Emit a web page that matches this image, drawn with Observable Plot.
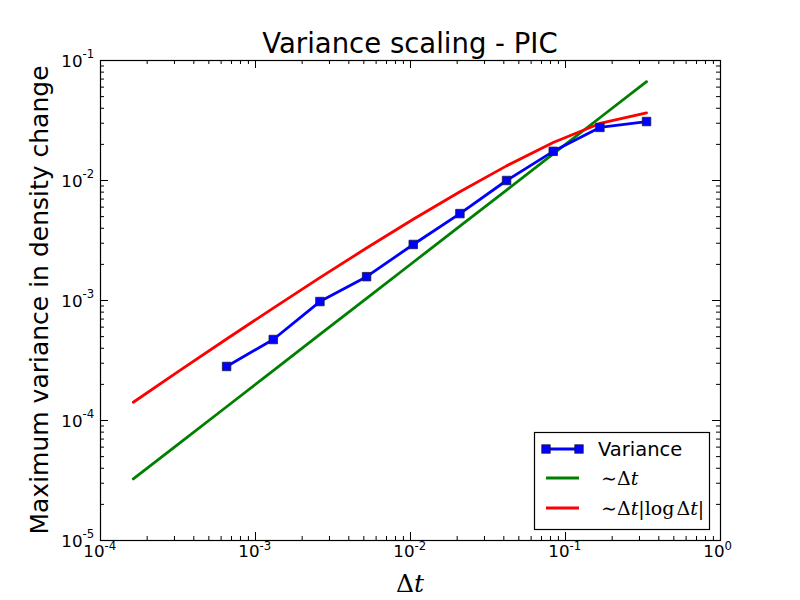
<!DOCTYPE html>
<html>
<head>
<meta charset="utf-8">
<script src="https://cdn.jsdelivr.net/npm/d3@7"></script>
<script src="https://cdn.jsdelivr.net/npm/@observablehq/plot@0.6"></script>
<style>
  html, body { margin: 0; padding: 0; background: #fff; }
  #chart { width: 800px; height: 600px; }
</style>
</head>
<body>
<div id="chart"></div>
<script>
// ---- data ----
const dtRef = [1.628e-4, 3.255e-4, 6.510e-4, 1.302e-3, 2.604e-3, 5.208e-3, 1.0417e-2, 2.0833e-2, 4.1667e-2, 8.3333e-2, 0.16667, 0.33333];
const linearRef = [3.26e-5, 6.51e-5, 1.302e-4, 2.604e-4, 5.21e-4, 1.042e-3, 2.083e-3, 4.167e-3, 8.33e-3, 1.667e-2, 3.333e-2, 6.667e-2];
const logRef = [1.420e-4, 2.614e-4, 4.776e-4, 8.65e-4, 1.550e-3, 2.738e-3, 4.755e-3, 8.065e-3, 1.324e-2, 2.071e-2, 2.986e-2, 3.662e-2];
const dtVar = [6.510e-4, 1.302e-3, 2.604e-3, 5.208e-3, 1.0417e-2, 2.0833e-2, 4.1667e-2, 8.3333e-2, 0.16667, 0.33333];
const variance = [2.82e-4, 4.73e-4, 9.8e-4, 1.58e-3, 2.93e-3, 5.3e-3, 1.0e-2, 1.75e-2, 2.77e-2, 3.1e-2];
const xMajor = [1e-4, 1e-3, 1e-2, 1e-1, 1];
const xExp = ["-4", "-3", "-2", "-1", "0"];
const yMajor = [1e-5, 1e-4, 1e-3, 1e-2, 1e-1];
const yExp = ["-5", "-4", "-3", "-2", "-1"];
const minorMult = [2, 3, 4, 5, 6, 7, 8, 9];

const xMinor = xMajor.slice(0, -1).flatMap(d => minorMult.map(m => d * m));
const yMinor = yMajor.slice(0, -1).flatMap(d => minorMult.map(m => d * m));
const linData = dtRef.map((d, i) => ({x: d, y: linearRef[i]}));
const logData = dtRef.map((d, i) => ({x: d, y: logRef[i]}));
const varData = dtVar.map((d, i) => ({x: d, y: variance[i]}));
const xLab = xMajor.map((d, i) => ({v: d, e: xExp[i]}));
const yLab = yMajor.map((d, i) => ({v: d, e: yExp[i]}));

const W = 800, H = 600, ML = 100, MR = 80, MT = 60, MB = 60;
const PW = W - ML - MR, PH = H - MT - MB;
const MAJ = 8, MIN = 4;
const FONT = "DejaVu Sans";
const MATH = "DejaVu Serif";
const LW = 2.8;

const chart = Plot.plot({
  width: W, height: H,
  marginLeft: ML, marginRight: MR, marginTop: MT, marginBottom: MB,
  style: {fontFamily: FONT, background: "#fff", overflow: "visible"},
  x: {type: "log", domain: [1e-4, 1], axis: null},
  y: {type: "log", domain: [1e-5, 1e-1], axis: null},
  marks: [
    Plot.line(linData, {x: "x", y: "y", stroke: "#008000", strokeWidth: LW}),
    Plot.line(logData, {x: "x", y: "y", stroke: "#ff0000", strokeWidth: LW}),
    Plot.line(varData, {x: "x", y: "y", stroke: "#0000ff", strokeWidth: LW}),
    Plot.dot(varData, {x: "x", y: "y", symbol: "square", r: 4.8, fill: "#0000ff", stroke: "#1a1a40", strokeWidth: 0.8}),
    // inward ticks on all four sides
    Plot.tickX(xMajor, {x: d => d, insetTop: PH - MAJ, stroke: "black"}),
    Plot.tickX(xMajor, {x: d => d, insetBottom: PH - MAJ, stroke: "black"}),
    Plot.tickX(xMinor, {x: d => d, insetTop: PH - MIN, stroke: "black"}),
    Plot.tickX(xMinor, {x: d => d, insetBottom: PH - MIN, stroke: "black"}),
    Plot.tickY(yMajor, {y: d => d, insetRight: PW - MAJ, stroke: "black"}),
    Plot.tickY(yMajor, {y: d => d, insetLeft: PW - MAJ, stroke: "black"}),
    Plot.tickY(yMinor, {y: d => d, insetRight: PW - MIN, stroke: "black"}),
    Plot.tickY(yMinor, {y: d => d, insetLeft: PW - MIN, stroke: "black"}),
    Plot.frame({stroke: "black", strokeWidth: 1.2}),
    // tick labels
    Plot.text(xLab, {x: "v", text: () => "10", frameAnchor: "bottom", dy: 16, dx: 4, textAnchor: "end", fontSize: 16.7, fill: "black"}),
    Plot.text(xLab, {x: "v", text: "e", frameAnchor: "bottom", dy: 9, dx: 4, textAnchor: "start", fontSize: 11.7, fill: "black"}),
    Plot.text(yLab, {y: "v", text: () => "10", frameAnchor: "left", dx: -18, dy: 1, textAnchor: "end", fontSize: 16.7, fill: "black"}),
    Plot.text(yLab, {y: "v", text: "e", frameAnchor: "left", dx: -18, dy: -6, textAnchor: "start", fontSize: 11.7, fill: "black"})
  ]
});

const svg = d3.select(chart);
// title
svg.append("text").attr("x", ML + PW / 2).attr("y", 53).attr("text-anchor", "middle")
  .attr("font-family", FONT).attr("font-size", 27.5).attr("fill", "black").text("Variance scaling - PIC");
// y label
svg.append("text").attr("transform", `translate(48,${MT + PH / 2}) rotate(-90)`).attr("text-anchor", "middle")
  .attr("font-family", FONT).attr("font-size", 25).attr("fill", "black").text("Maximum variance in density change");
// x label (math)
const xl = svg.append("text").attr("x", ML + PW / 2).attr("y", 592).attr("text-anchor", "middle")
  .attr("font-family", MATH).attr("font-size", 25).attr("fill", "black");
xl.append("tspan").text("Δ");
xl.append("tspan").attr("font-style", "italic").text("t");

// legend
const lg = svg.append("g");
lg.append("rect").attr("x", 534.5).attr("y", 432.5).attr("width", 175).attr("height", 97)
  .attr("fill", "white").attr("stroke", "black").attr("stroke-width", 1.2);
const entries = [
  {y: 449, color: "#0000ff", marker: true, parts: [["Variance", FONT, "normal", 0]]},
  {y: 478, color: "#008000", marker: false, parts: [["∼Δ", MATH, "normal", 0], ["t", MATH, "italic", 0]]},
  {y: 508, color: "#ff0000", marker: false, parts: [["∼Δ", MATH, "normal", 0], ["t", MATH, "italic", 0], ["|log", MATH, "normal", 0], ["Δ", MATH, "normal", 2], ["t", MATH, "italic", 0], ["|", MATH, "normal", 0]]}
];
for (const e of entries) {
  lg.append("line").attr("x1", 546).attr("x2", 579).attr("y1", e.y).attr("y2", e.y)
    .attr("stroke", e.color).attr("stroke-width", LW);
  if (e.marker) {
    for (const mx of [546, 579]) {
      lg.append("rect").attr("x", mx - 4.2).attr("y", e.y - 4.2).attr("width", 8.4).attr("height", 8.4)
        .attr("fill", "#0000ff").attr("stroke", "#1a1a40").attr("stroke-width", 0.8);
    }
  }
  const t = lg.append("text").attr("x", e.marker ? 598 : 601).attr("y", e.y + 7).attr("fill", "black")
    .attr("text-anchor", "start").attr("font-size", e.marker ? 19.5 : 19);
  for (const [s, f, st, dx] of e.parts) {
    t.append("tspan").attr("font-family", f).attr("font-style", st).attr("dx", dx).text(s);
  }
}

document.getElementById("chart").appendChild(chart);
</script>
</body>
</html>
